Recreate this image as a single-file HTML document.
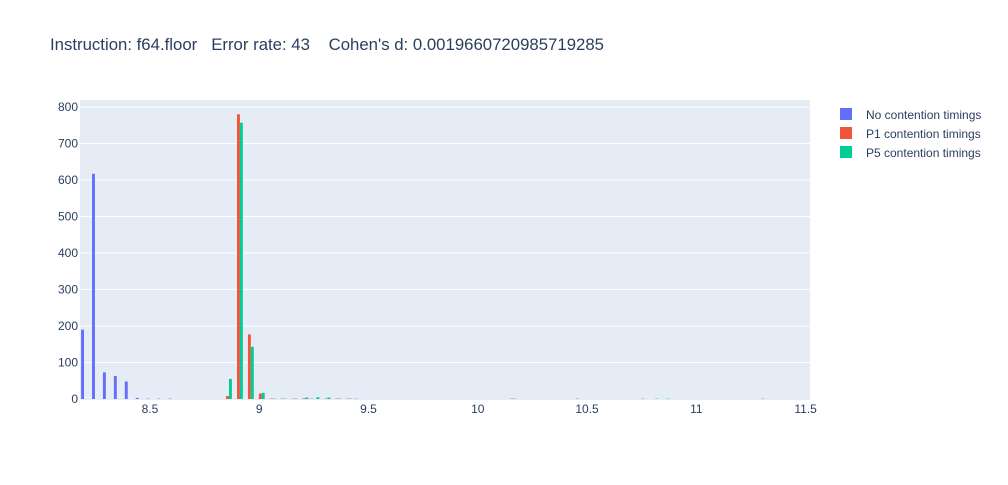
<!DOCTYPE html>
<html><head><meta charset="utf-8">
<style>
body{margin:0;background:#fff;font-family:"Liberation Sans",Arial,sans-serif;}
svg text{font-family:"Liberation Sans",Arial,sans-serif;}
</style></head>
<body>
<svg id="chart" width="1008" height="480">
<rect x="0" y="0" width="1008" height="480" fill="#fff"/>
<text x="50" y="50" font-size="17" fill="#2a3f5f" style="white-space:pre" xml:space="preserve" textLength="554" lengthAdjust="spacingAndGlyphs">Instruction: f64.floor   Error rate: 43    Cohen's d: 0.0019660720985719285</text>
<rect x="80" y="100" width="730" height="300" fill="#e5ecf6"/>
<g id="grid"></g>
<g id="bars"></g>
<g id="ticks"></g>
<g>
<rect x="840" y="108" width="12" height="12" fill="#636efa"/>
<text x="866" y="119" font-size="12" fill="#2a3f5f">No contention timings</text>
<rect x="840" y="127" width="12" height="12" fill="#ef553b"/>
<text x="866" y="138" font-size="12" fill="#2a3f5f">P1 contention timings</text>
<rect x="840" y="146" width="12" height="12" fill="#00cc96"/>
<text x="866" y="157" font-size="12" fill="#2a3f5f">P5 contention timings</text>
</g>
</svg>
<script>
const binStart = 8.18;
const binWidth = 0.05;
const blueBins = [0,1,2,3,4,5,6,7,8,21,25];
const blueCounts = [190,617,73,63,48,3,1,1,1,1,1];
const redBins = [13,14,15,16,17,18,19,20,22,23,24,39,45,51,62];
const redCounts = [8,780,177,15,1,1,1,2,1,1,1,1,1,1,1];
const greenBins = [13,14,15,16,17,18,19,20,21,22,23,24,39,52,53];
const greenCounts = [55,757,143,17,1,1,1,4,5,4,1,1,1,1,1];
const xTicks = [8.5,9,9.5,10,10.5,11,11.5];
const xTickLabels = ["8.5","9","9.5","10","10.5","11","11.5"];
const yTicks = [0,100,200,300,400,500,600,700,800];

const X0=80, X1=810, XMIN=8.18, XMAX=11.52;
const Y0=399, YSCALE=292/800;
function xs(v){return X0+(v-XMIN)/(XMAX-XMIN)*(X1-X0);}
function ys(v){return Y0-v*YSCALE;}
const NS="http://www.w3.org/2000/svg";
const grid=document.getElementById('grid'), bars=document.getElementById('bars'), ticks=document.getElementById('ticks');
yTicks.forEach(t=>{
  if(t>0){const l=document.createElementNS(NS,'line');
  l.setAttribute('x1',X0);l.setAttribute('x2',X1);l.setAttribute('y1',ys(t));l.setAttribute('y2',ys(t));
  l.setAttribute('stroke','#fff');l.setAttribute('stroke-width','1');
  
  
  grid.appendChild(l);}
  const tx=document.createElementNS(NS,'text');
  tx.setAttribute('x',X0-2);tx.setAttribute('y',ys(t)+4);tx.setAttribute('text-anchor','end');
  tx.setAttribute('font-size','12');tx.setAttribute('fill','#2a3f5f');tx.textContent=t;
  
  
  ticks.appendChild(tx);
});
xTicks.forEach((t,i)=>{
  const tx=document.createElementNS(NS,'text');
  tx.setAttribute('x',xs(t));tx.setAttribute('y',413);tx.setAttribute('text-anchor','middle');
  tx.setAttribute('font-size','12');tx.setAttribute('fill','#2a3f5f');tx.textContent=xTickLabels[i];
  
  
  ticks.appendChild(tx);
});
function drawSeries(bins,counts,color,slot,name){
  bins.forEach((b,i)=>{
    const left=xs(binStart+b*binWidth), w=xs(binStart+(b+1)*binWidth)-left;
    const gw=w*0.8, bw=gw/3;
    const x=left+w*0.1+slot*bw;
    const r=document.createElementNS(NS,'rect');
    r.setAttribute('x',x);r.setAttribute('width',bw);
    r.setAttribute('y',ys(counts[i]));r.setAttribute('height',Math.max(0,Y0-ys(counts[i])));
    r.setAttribute('fill',color);
    
    
    bars.appendChild(r);
  });
}
drawSeries(blueBins,blueCounts,'#636efa',0,'bar-no-contention');
drawSeries(redBins,redCounts,'#ef553b',1,'bar-p1-contention');
drawSeries(greenBins,greenCounts,'#00cc96',2,'bar-p5-contention');
</script>
</body></html>
